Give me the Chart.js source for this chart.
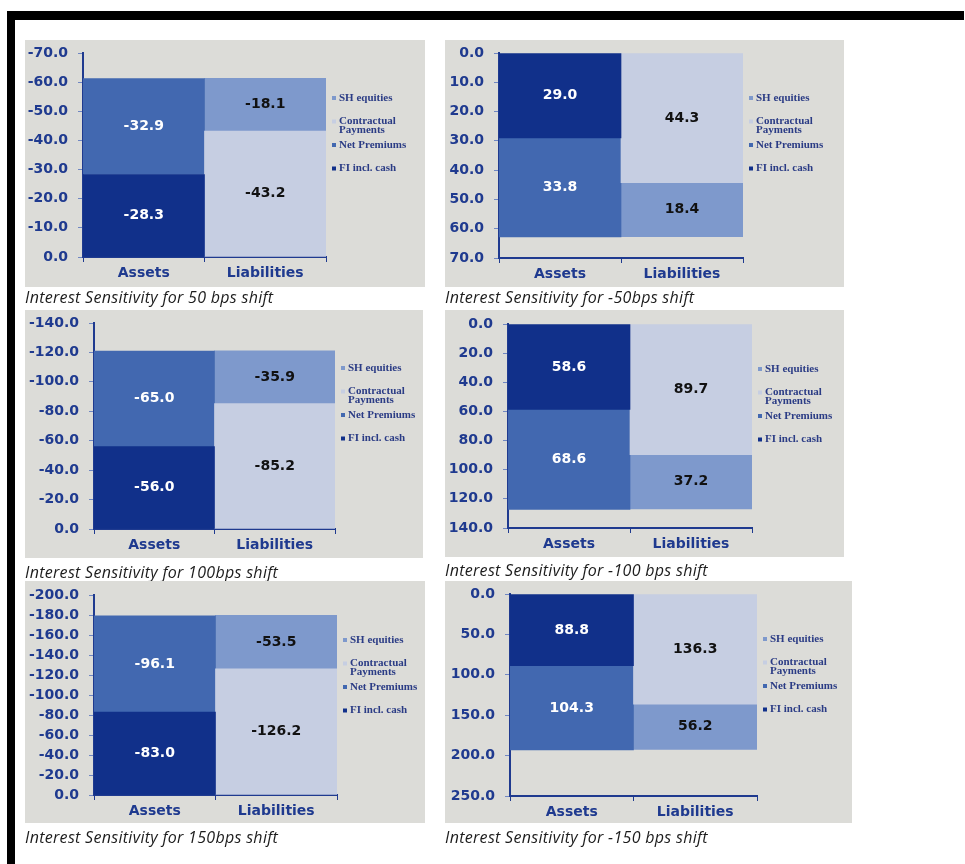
<!DOCTYPE html>
<html>
<head>
<meta charset="utf-8">
<script src="https://cdn.jsdelivr.net/npm/chart.js@4.4.1/dist/chart.umd.min.js"></script>
<style>
  html, body { margin: 0; padding: 0; background: #ffffff; }
  body { width: 965px; height: 864px; position: relative; overflow: hidden; }
  .frame { position: absolute; background: #000; }
  .panel { position: absolute; background: #dcdcd8; }
  .panel canvas { display: block; }
  .caption {
    position: absolute;
    font-family: "Open Sans", sans-serif;
    font-style: italic;
    font-size: 16px;
    letter-spacing: 0.3px;
    color: #1c1c1c;
    white-space: nowrap;
    line-height: 18px;
  }
</style>
</head>
<body>
<div class="frame" style="left:7px;top:11px;width:957px;height:9px;"></div>
<div class="frame" style="left:7px;top:11px;width:8px;height:853px;"></div>

<script>
// Categories and series
const categories = ['Assets', 'Liabilities'];
const seriesNames = ['FI incl. cash', 'Contractual Payments', 'Net Premiums', 'SH equities'];
const legendLines = [['FI incl. cash'], ['Contractual', 'Payments'], ['Net Premiums'], ['SH equities']];
// Legend lists series top to bottom in this order
const legendOrder = [3, 1, 2, 0];

// Rate shift scenarios, one chart each
const shifts = ['50 bps', '-50bps', '100bps', '-100 bps', '150bps', '-150 bps'];

// Asset side
const fiInclCash   = [-28.3, 29.0, -56.0, 58.6, -83.0, 88.8];
const netPremiums  = [-32.9, 33.8, -65.0, 68.6, -96.1, 104.3];
// Liability side
const contractualPayments = [-43.2, 44.3, -85.2, 89.7, -126.2, 136.3];
const shEquities          = [-18.1, 18.4, -35.9, 37.2, -53.5, 56.2];

// Value axis ranges
const axisMin  = [-70, 0, -140, 0, -200, 0];
const axisMax  = [0, 70, 0, 140, 0, 250];
const axisStep = [10, 10, 20, 20, 20, 50];

// Series colours
const seriesColors = ['#11308a', '#c6cee2', '#4268b0', '#7e99cc'];
const valueColors  = ['#ffffff', '#111111', '#ffffff', '#111111'];

// Panel placement: grey box and plot area edges (page pixels)
const panels = [
  { box: [25, 40, 425, 287],  plot: [83, 53, 326, 257],  cap: [25, 288] },
  { box: [445, 40, 844, 287], plot: [499, 53, 743, 258], cap: [445, 288] },
  { box: [25, 310, 423, 558], plot: [94, 323, 335, 529], cap: [25, 563] },
  { box: [445, 310, 844, 557], plot: [508, 324, 752, 528], cap: [445, 561] },
  { box: [25, 581, 425, 823], plot: [94, 595, 337, 795], cap: [25, 828] },
  { box: [445, 581, 852, 823], plot: [510, 594, 757, 796], cap: [445, 828] }
];

const navy = '#1f3a8f';
const tickFont = { family: '"DejaVu Sans", sans-serif', weight: 'bold', size: 14 };

// Writes each segment's value in the middle of the segment
const segmentValues = {
  id: 'segmentValues',
  afterDatasetsDraw(chart) {
    const ctx = chart.ctx;
    ctx.save();
    ctx.font = 'bold 14px "DejaVu Sans", sans-serif';
    ctx.textAlign = 'center';
    ctx.textBaseline = 'middle';
    chart.data.datasets.forEach((ds, i) => {
      const meta = chart.getDatasetMeta(i);
      meta.data.forEach((el, j) => {
        const v = ds.data[j];
        if (v === null || v === undefined) return;
        const p = el.getProps(['x', 'y', 'base'], true);
        ctx.fillStyle = ds.valueColor;
        ctx.fillText(v.toFixed(1), p.x, (p.y + p.base) / 2);
      });
    });
    ctx.restore();
  }
};

// Small legend to the right of the plot
const sideLegend = {
  id: 'sideLegend',
  afterDraw(chart) {
    const ctx = chart.ctx;
    const area = chart.chartArea;
    ctx.save();
    ctx.font = 'bold 11px "Liberation Serif", "DejaVu Serif", serif';
    ctx.textBaseline = 'middle';
    ctx.textAlign = 'left';
    legendOrder.forEach((idx, k) => {
      const ds = chart.data.datasets[idx];
      const y = area.top + 45 + k * 23.5;
      ctx.fillStyle = ds.backgroundColor;
      ctx.fillRect(area.right + 6, y - 2, 4, 4);
      ctx.fillStyle = '#2b3c85';
      ds.legendLines.forEach((line, n) => {
        ctx.fillText(line, area.right + 13, y + n * 9);
      });
    });
    ctx.restore();
  }
};

panels.forEach((pn, i) => {
  const [bx0, by0, bx1, by1] = pn.box;
  const [px0, py0, px1, py1] = pn.plot;
  const w = bx1 - bx0, h = by1 - by0;

  const div = document.createElement('div');
  div.className = 'panel';
  div.style.left = bx0 + 'px';
  div.style.top = by0 + 'px';
  div.style.width = w + 'px';
  div.style.height = h + 'px';
  const canvas = document.createElement('canvas');
  canvas.width = w;
  canvas.height = h;
  div.appendChild(canvas);
  document.body.appendChild(div);

  const cap = document.createElement('div');
  cap.className = 'caption';
  cap.style.left = pn.cap[0] + 'px';
  cap.style.top = pn.cap[1] + 'px';
  cap.textContent = 'Interest Sensitivity for ' + shifts[i] + ' shift';
  document.body.appendChild(cap);

  const seriesValues = [
    [fiInclCash[i], null],
    [null, contractualPayments[i]],
    [netPremiums[i], null],
    [null, shEquities[i]]
  ];

  const datasets = seriesNames.map((name, k) => ({
    label: name,
    data: seriesValues[k],
    backgroundColor: seriesColors[k],
    borderWidth: 0,
    categoryPercentage: 1.0,
    barPercentage: 1.0,
    valueColor: valueColors[k],
    legendLines: legendLines[k]
  }));

  const yWidth = px0 - bx0;
  const xHeight = by1 - py1;

  new Chart(canvas, {
    type: 'bar',
    data: { labels: categories, datasets },
    options: {
      responsive: false,
      animation: false,
      devicePixelRatio: 1,
      layout: { padding: { left: 0, top: py0 - by0, right: bx1 - px1, bottom: 0 } },
      plugins: {
        legend: { display: false },
        tooltip: { enabled: false }
      },
      scales: {
        x: {
          stacked: true,
          afterFit(scale) {
            scale.height = xHeight;
            scale.paddingLeft = 0;
            scale.paddingRight = 0;
          },
          grid: { display: true, drawOnChartArea: false, drawTicks: true, tickLength: 5, color: navy, offset: true },
          border: { display: true, color: navy, width: 2 },
          ticks: { color: navy, font: tickFont, padding: 3 }
        },
        y: {
          stacked: true,
          reverse: true,
          min: axisMin[i],
          max: axisMax[i],
          afterFit(scale) {
            scale.width = yWidth;
            scale.paddingTop = 0;
            scale.paddingBottom = 0;
          },
          grid: { display: true, drawOnChartArea: false, drawTicks: true, tickLength: 5, color: '#6f86c2' },
          border: { display: true, color: navy, width: 2 },
          ticks: {
            stepSize: axisStep[i],
            autoSkip: false,
            color: navy,
            font: tickFont,
            padding: 10,
            callback: (v) => Number(v).toFixed(1)
          }
        }
      }
    },
    plugins: [segmentValues, sideLegend]
  });
});
</script>
</body>
</html>
